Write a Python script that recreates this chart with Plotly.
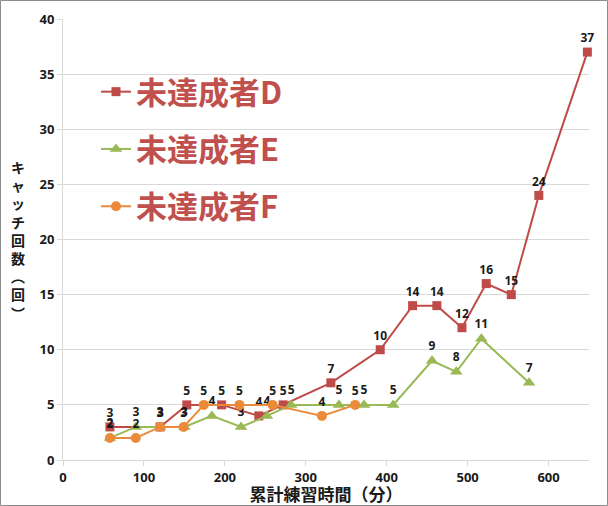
import plotly.graph_objects as go

# cumulative practice time (minutes) and catch counts per learner
d_time = [58, 120, 153, 196, 242, 272, 331, 392, 432, 462, 493, 523, 554, 588, 648]
d_catch = [3, 3, 5, 5, 4, 5, 7, 10, 14, 14, 12, 16, 15, 24, 37]

e_time = [58, 90, 120, 150, 184, 220, 252, 282, 341, 372, 408, 456, 486, 517, 576]
e_catch = [2, 3, 3, 3, 4, 3, 4, 5, 5, 5, 5, 9, 8, 11, 7]

f_time = [58, 90, 120, 149, 174, 218, 259, 320, 361]
f_catch = [2, 2, 3, 3, 5, 5, 5, 4, 5]

series_names = ["未達成者D", "未達成者E", "未達成者F"]
x_ticks = [0, 100, 200, 300, 400, 500, 600]
y_ticks = [0, 5, 10, 15, 20, 25, 30, 35, 40]

x_title = "累計練習時間（分）"
y_title_chars = ["キ", "ャ", "ッ", "チ", "回", "数", "︵", "回", "︶"]

W, H = 608, 506
ML, MR, MT, MB = 63, 19, 19, 46
X_MAX = 650

NUM_FONT = "Noto Sans, Noto Sans CJK JP, sans-serif"
JP_FONT = "Noto Sans CJK JP, Noto Sans, sans-serif"

styles = [
    dict(color="#BE4B48", symbol="square", size=9),
    dict(color="#98B954", symbol="triangle-up", size=11),
    dict(color="#EB8B3A", symbol="circle", size=10),
]

fig = go.Figure()
for i, (xs, ys) in enumerate([(d_time, d_catch), (e_time, e_catch), (f_time, f_catch)]):
    st = styles[i]
    fig.add_trace(go.Scatter(
        x=xs, y=ys, name=series_names[i], legendgroup=series_names[i],
        mode="lines+markers+text",
        line=dict(color=st["color"], width=2),
        marker=dict(color=st["color"], symbol=st["symbol"], size=st["size"],
                    line=dict(width=0)),
        text=[str(v) for v in ys], textposition="top center",
        textfont=dict(family=NUM_FONT, size=12, color="#1a1a1a", weight="bold"),
        cliponaxis=False,
    ))

plot_w = W - ML - MR
plot_h = H - MT - MB

annotations = [
    dict(text="<br>".join(y_title_chars), xref="paper", yref="paper",
         x=(18 - ML) / plot_w, y=0.5, xanchor="center", yanchor="middle",
         showarrow=False, align="center",
         font=dict(family=JP_FONT, size=14, color="#1a1a1a", weight="bold")),
]

fig.update_layout(
    width=W, height=H,
    margin=dict(l=ML, r=MR, t=MT, b=MB, autoexpand=False),
    paper_bgcolor="white", plot_bgcolor="white",
    showlegend=True,
    legend=dict(
        x=(96 - ML) / plot_w, y=(H - MB - 65) / plot_h,
        xanchor="left", yanchor="top",
        bgcolor="rgba(0,0,0,0)",
        font=dict(family=JP_FONT, size=31, color="#C0504D", weight="bold"),
        itemwidth=30, tracegroupgap=14,
    ),
    xaxis=dict(
        range=[0, X_MAX], tickvals=x_ticks, automargin=False,
        showgrid=False, zeroline=False,
        showline=True, linecolor="#D9D9D9", linewidth=1,
        ticks="outside", ticklen=5, tickcolor="#D9D9D9",
        tickfont=dict(family=NUM_FONT, size=13, color="#1a1a1a", weight="bold"),
        title=dict(text=x_title, standoff=7,
                   font=dict(family=JP_FONT, size=17, color="#1a1a1a", weight="bold")),
    ),
    yaxis=dict(
        range=[0, 40], tickvals=y_ticks, automargin=False,
        showgrid=True, gridcolor="#D9D9D9", gridwidth=1, zeroline=False,
        showline=True, linecolor="#D9D9D9", linewidth=1,
        ticks="outside", ticklen=5, tickcolor="#D9D9D9",
        tickfont=dict(family=NUM_FONT, size=13, color="#1a1a1a", weight="bold"),
    ),
    annotations=annotations,
    shapes=[dict(
        type="rect", xref="paper", yref="paper",
        x0=(0.5 - ML) / plot_w, x1=(W - 0.5 - ML) / plot_w,
        y0=-(MB - 0.5) / plot_h, y1=1 + (MT - 0.5) / plot_h,
        line=dict(color="#8C8C8C", width=1), fillcolor="rgba(0,0,0,0)",
    )],
)

fig.write_html("out.html")
